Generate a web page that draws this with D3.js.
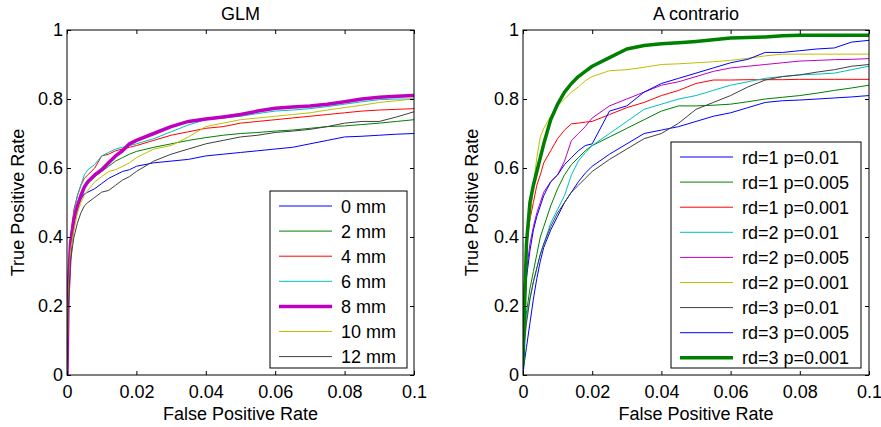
<!DOCTYPE html>
<html>
<head>
<meta charset="utf-8">
<script src="https://cdn.jsdelivr.net/npm/d3@7"></script>
<style>
  body { margin: 0; background: #fff; }
  svg { font-family: "Liberation Sans", Arial, sans-serif; }
</style>
</head>
<body>
<svg id="chart" width="881" height="427"></svg>
<script>
// shared false positive rate grid (both panels)
const fpr = [0, 0.0003, 0.001, 0.002, 0.003, 0.004, 0.005, 0.006, 0.008, 0.010,
  0.012, 0.014, 0.016, 0.018, 0.020, 0.025, 0.030, 0.035, 0.040, 0.045,
  0.050, 0.055, 0.060, 0.065, 0.070, 0.075, 0.080, 0.085, 0.090, 0.095, 0.100];

const xTicks = [0, 0.02, 0.04, 0.06, 0.08, 0.1];
const xTickLabels = ['0', '0.02', '0.04', '0.06', '0.08', '0.1'];
const yTicks = [0, 0.2, 0.4, 0.6, 0.8, 1];
const yTickLabels = ['0', '0.2', '0.4', '0.6', '0.8', '1'];

// GLM panel
const glmNames = ['0 mm', '2 mm', '4 mm', '6 mm', '8 mm', '10 mm', '12 mm'];
const glm0 = [0, .22, .38, .46, .49, .51, .525, .53, .54, .555, .57, .58, .59, .595, .605, .615, .62, .625, .635, .64, .645, .65, .655, .66, .67, .68, .69, .692, .695, .698, .70];
const glm2 = [0, .22, .38, .45, .49, .52, .54, .555, .575, .59, .605, .62, .63, .64, .648, .66, .67, .68, .688, .695, .70, .703, .707, .71, .715, .72, .722, .726, .73, .735, .74];
const glm4 = [0, .22, .40, .48, .52, .55, .57, .58, .60, .635, .64, .65, .655, .66, .665, .68, .695, .705, .715, .72, .73, .735, .74, .745, .75, .755, .76, .765, .768, .77, .772];
const glm6 = [0, .22, .38, .47, .52, .55, .58, .595, .61, .635, .645, .655, .66, .665, .67, .685, .705, .725, .74, .745, .75, .758, .765, .768, .772, .778, .785, .792, .798, .80, .80];
const glm8 = [0, .23, .38, .45, .49, .52, .545, .56, .58, .595, .615, .635, .65, .67, .68, .70, .72, .735, .742, .748, .755, .765, .773, .777, .78, .785, .792, .80, .805, .808, .81];
const glm10 = [0, .20, .36, .42, .47, .50, .52, .535, .56, .575, .59, .595, .605, .615, .63, .655, .665, .69, .72, .73, .74, .745, .75, .755, .76, .768, .775, .782, .79, .795, .80];
const glm12 = [0, .18, .33, .40, .44, .47, .49, .50, .515, .53, .535, .55, .565, .575, .59, .62, .64, .655, .67, .68, .69, .695, .703, .707, .712, .72, .73, .735, .735, .748, .763];
const glmColors = ['#0000ff', '#008000', '#ff0000', '#00bfbf', '#bf00bf', '#bfbf00', '#404040'];
const glmWidths = [1, 1, 1, 1, 3.5, 1, 1];

// A contrario panel
const acNames = ['rd=1 p=0.01', 'rd=1 p=0.005', 'rd=1 p=0.001', 'rd=2 p=0.01', 'rd=2 p=0.005',
  'rd=2 p=0.001', 'rd=3 p=0.01', 'rd=3 p=0.005', 'rd=3 p=0.001'];
const ac1a = [0, .03, .08, .15, .22, .28, .33, .37, .42, .46, .50, .53, .56, .585, .605, .64, .67, .70, .71, .72, .735, .75, .76, .775, .79, .795, .797, .80, .803, .806, .81];
const ac1b = [0, .10, .18, .25, .30, .35, .40, .43, .49, .54, .58, .61, .63, .65, .665, .69, .715, .74, .765, .78, .78, .782, .785, .792, .80, .805, .81, .817, .825, .832, .84];
const ac1c = [0, .25, .38, .45, .50, .55, .58, .615, .65, .685, .71, .728, .73, .733, .735, .755, .775, .79, .81, .825, .845, .855, .855, .856, .856, .856, .857, .857, .857, .857, .857];
const ac2a = [0, .10, .17, .22, .27, .31, .35, .38, .44, .48, .52, .58, .62, .645, .665, .70, .735, .77, .785, .80, .81, .825, .84, .85, .86, .865, .87, .872, .875, .885, .895];
const ac2b = [0, .20, .30, .38, .43, .47, .50, .53, .56, .58, .62, .68, .70, .72, .745, .78, .80, .82, .84, .85, .865, .88, .89, .895, .90, .905, .91, .912, .914, .915, .917];
const ac2c = [0, .20, .40, .45, .55, .63, .69, .715, .75, .78, .80, .82, .835, .853, .865, .882, .885, .892, .90, .902, .905, .908, .912, .918, .925, .93, .93, .93, .93, .93, .93];
const ac3a = [0, .08, .15, .22, .27, .31, .35, .38, .43, .47, .50, .53, .55, .57, .59, .625, .655, .685, .70, .73, .77, .79, .81, .835, .855, .865, .87, .878, .885, .895, .90];
const ac3b = [0, .15, .28, .36, .42, .46, .49, .52, .56, .58, .61, .63, .65, .665, .67, .765, .78, .82, .845, .86, .875, .89, .905, .915, .935, .935, .94, .945, .948, .965, .97];
const ac3c = [.03, .15, .38, .50, .55, .59, .63, .67, .74, .785, .82, .845, .865, .88, .895, .92, .945, .955, .96, .963, .967, .972, .977, .978, .98, .983, .985, .985, .985, .985, .985];
const acColors = ['#0000ff', '#008000', '#ff0000', '#00bfbf', '#bf00bf', '#bfbf00', '#404040', '#0000ff', '#008000'];
const acWidths = [1, 1, 1, 1, 1, 1, 1, 1, 3.5];

const svg = d3.select('#chart');
svg.append('rect').attr('width', 881).attr('height', 427).attr('fill', '#fff');

function panel(opts) {
    const x = d3.scaleLinear().domain([0, 0.1]).range([opts.left, opts.right]);
    const y = d3.scaleLinear().domain([0, 1]).range([opts.bottom, opts.top]);
    const g = svg.append('g');

    const clipId = 'clip-' + opts.id;
    svg.append('clipPath').attr('id', clipId)
        .append('rect')
        .attr('x', opts.left).attr('y', opts.top)
        .attr('width', opts.right - opts.left).attr('height', opts.bottom - opts.top);

    // curves
    const line = d3.line()
        .x((d, i) => x(fpr[i]))
        .y(d => y(d));
    g.append('g').attr('clip-path', 'url(#' + clipId + ')')
        .selectAll('path')
        .data(opts.series)
        .enter().append('path')
        .attr('d', d => line(d))
        .attr('fill', 'none')
        .attr('stroke', (d, i) => opts.colors[i])
        .attr('stroke-width', (d, i) => opts.widths[i])
        .attr('stroke-linejoin', 'round');

    // axes, ticks pointing inward on all four sides
    const fmtX = (d, i) => xTickLabels[i];
    const fmtY = (d, i) => yTickLabels[i];
    g.append('g').attr('transform', 'translate(0,' + opts.bottom + ')')
        .call(d3.axisBottom(x).tickValues(xTicks).tickFormat(fmtX).tickSizeInner(-4).tickSizeOuter(0).tickPadding(10));
    g.append('g').attr('transform', 'translate(0,' + opts.top + ')')
        .call(d3.axisTop(x).tickValues(xTicks).tickFormat('').tickSizeInner(-4).tickSizeOuter(0));
    g.append('g').attr('transform', 'translate(' + opts.left + ',0)')
        .call(d3.axisLeft(y).tickValues(yTicks).tickFormat(fmtY).tickSizeInner(-4).tickSizeOuter(0).tickPadding(4));
    g.append('g').attr('transform', 'translate(' + opts.right + ',0)')
        .call(d3.axisRight(y).tickValues(yTicks).tickFormat('').tickSizeInner(-4).tickSizeOuter(0));
    g.selectAll('.domain').remove();
    g.selectAll('.tick text').attr('font-size', 18).attr('fill', '#000')
        .attr('font-family', '"Liberation Sans", Arial, sans-serif');
    g.selectAll('.tick line').attr('stroke', '#000');

    g.append('rect')
        .attr('x', opts.left).attr('y', opts.top)
        .attr('width', opts.right - opts.left).attr('height', opts.bottom - opts.top)
        .attr('fill', 'none').attr('stroke', '#000').attr('stroke-width', 1);

    // titles and axis labels
    const cx = (opts.left + opts.right) / 2;
    g.append('text').attr('x', cx).attr('y', 20).attr('text-anchor', 'middle')
        .attr('font-size', 18).text(opts.title);
    g.append('text').attr('x', cx).attr('y', 420).attr('text-anchor', 'middle')
        .attr('font-size', 18).text('False Positive Rate');
    g.append('text')
        .attr('transform', 'translate(' + opts.ylabelX + ',' + (opts.top + opts.bottom) / 2 + ') rotate(-90)')
        .attr('text-anchor', 'middle').attr('font-size', 18).text('True Positive Rate');

    // legend
    const lg = opts.legend;
    g.append('rect')
        .attr('x', lg.x).attr('y', lg.y).attr('width', lg.w).attr('height', lg.h)
        .attr('fill', '#fff').attr('stroke', '#000').attr('stroke-width', 1);
    const item = g.selectAll('.legend-' + opts.id)
        .data(opts.names)
        .enter().append('g')
        .attr('class', 'legend-' + opts.id)
        .attr('transform', (d, i) => 'translate(0,' + (lg.row0 + i * lg.step) + ')');
    item.append('line')
        .attr('x1', lg.x + 9).attr('x2', lg.x + 62)
        .attr('stroke', (d, i) => opts.colors[i])
        .attr('stroke-width', (d, i) => opts.widths[i]);
    item.append('text')
        .attr('x', lg.x + 71).attr('y', 6.5)
        .attr('font-size', 18)
        .text(d => d);
}

panel({
    id: 'glm', title: 'GLM', left: 67, right: 414, top: 30, bottom: 375, ylabelX: 24,
    series: [glm0, glm2, glm4, glm6, glm8, glm10, glm12],
    names: glmNames, colors: glmColors, widths: glmWidths,
    legend: { x: 270, y: 191, w: 137, h: 177, row0: 206, step: 25.1 }
});

panel({
    id: 'ac', title: 'A contrario', left: 523, right: 869, top: 30, bottom: 375, ylabelX: 478,
    series: [ac1a, ac1b, ac1c, ac2a, ac2b, ac2c, ac3a, ac3b, ac3c],
    names: acNames, colors: acColors, widths: acWidths,
    legend: { x: 671, y: 142, w: 190, h: 226, row0: 157, step: 25.1 }
});
</script>
</body>
</html>
